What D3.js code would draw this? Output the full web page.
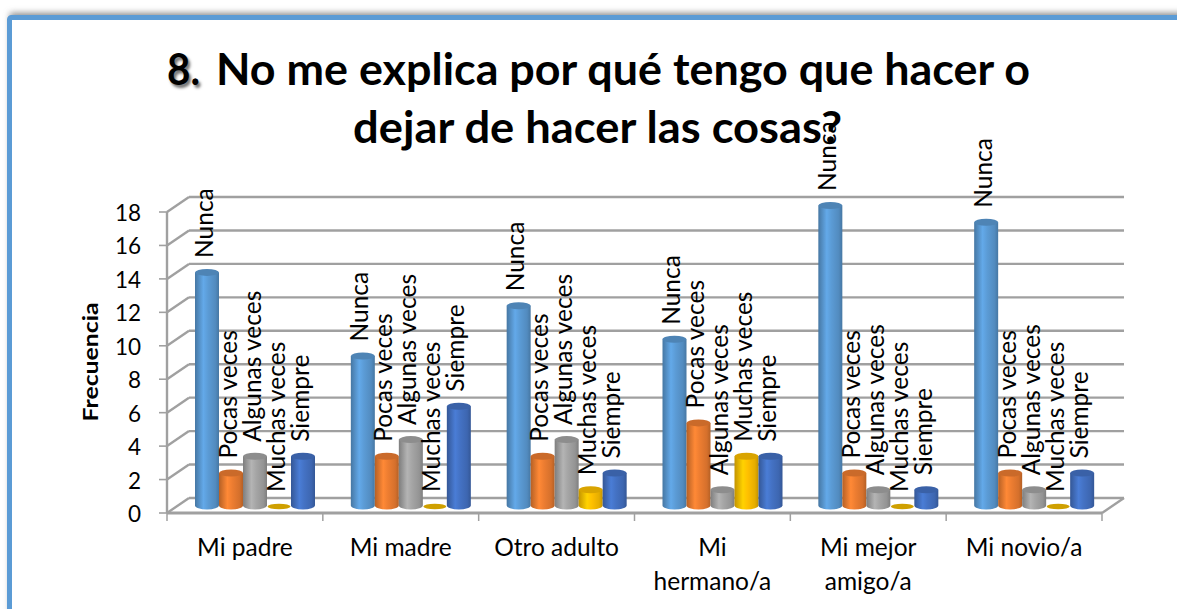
<!DOCTYPE html>
<html><head><meta charset="utf-8">
<script src="https://cdn.jsdelivr.net/npm/d3@7"></script>
<style>html,body{margin:0;padding:0;background:#fff;overflow:hidden}svg{display:block}</style>
</head><body><svg id="c" width="1177" height="609"></svg>
<script>
const categories=[["Mi padre"],["Mi madre"],["Otro adulto"],["Mi","hermano/a"],["Mi mejor","amigo/a"],["Mi novio/a"]];
const seriesNames=["Nunca","Pocas veces","Algunas veces","Muchas veces","Siempre"];
const nunca=[14,9,12,10,18,17];
const pocas=[2,3,3,5,2,2];
const algunas=[3,4,4,1,1,1];
const muchas=[0,0,1,3,0,0];
const siempre=[3,6,2,3,1,2];
const seriesValues=[nunca,pocas,algunas,muchas,siempre];
const colors=["#5b9bd5","#ed7d31","#a5a5a5","#ffc000","#4472c4"];
const yTicks=d3.range(0,20,2);

const svg=d3.select("#c");
const defs=svg.append("defs");
const blur=defs.append("filter").attr("id","sh").attr("x","-5%").attr("y","-300%").attr("width","110%").attr("height","700%");
blur.append("feGaussianBlur").attr("stdDeviation",3);
colors.forEach((c,i)=>{
  const g=defs.append("linearGradient").attr("id","g"+i);
  const d=d3.color(c).darker(0.75), l=d3.color(c).brighter(0.25);
  [[0,d],[0.35,l],[0.55,c],[0.85,d3.color(c).darker(0.3)],[1,d]].forEach(([o,k])=>g.append("stop").attr("offset",o).attr("stop-color",k));
});

// frame
svg.append("rect").attr("x",10).attr("y",13).attr("width",1200).attr("height",700).attr("fill","#8a8a8a").attr("filter","url(#sh)");
svg.append("rect").attr("x",9.5).attr("y",17.5).attr("width",1200).attr("height",700).attr("rx",2).attr("fill","#fff").attr("stroke","#5b9bd5").attr("stroke-width",5);

// scales
const depthX=22, depthY=15;
const y=d3.scaleLinear().domain([0,18]).range([513,212]);
const x=d3.scaleBand().domain(d3.range(6)).range([167,1102]);
const inner=d3.scaleBand().domain(d3.range(5)).range([28,148]);
const yBar=v=>y(v)-6.5;
const gray="#a0a0a0";

// back wall + side wall
const wall=svg.append("g").attr("stroke",gray).attr("stroke-width",2.4).attr("fill","none");
yTicks.forEach(t=>{
  wall.append("line").attr("x1",167+depthX).attr("x2",1102+depthX).attr("y1",y(t)-depthY).attr("y2",y(t)-depthY);
  wall.append("line").attr("x1",167).attr("x2",167+depthX).attr("y1",y(t)).attr("y2",y(t)-depthY);
  wall.append("line").attr("x1",159).attr("x2",167).attr("y1",y(t)).attr("y2",y(t)).attr("stroke-width",1.6);
});
wall.append("line").attr("x1",167).attr("x2",167).attr("y1",y(18)).attr("y2",y(0));
wall.append("line").attr("x1",167).attr("x2",1102).attr("y1",y(0)).attr("y2",y(0)).attr("stroke-width",3);
wall.append("line").attr("x1",1102).attr("x2",1102+depthX).attr("y1",y(0)).attr("y2",y(0)-depthY);
d3.range(7).forEach(i=>{
  const px=167+i*x.bandwidth();
  wall.append("line").attr("x1",px).attr("x2",px).attr("y1",y(0)).attr("y2",y(0)+8).attr("stroke-width",1.5);
});

// cylinders
const ry=4;
categories.forEach((c,i)=>{
  seriesValues.forEach((vals,s)=>{
    const v=vals[i], l=x(i)+inner(s), w=inner.bandwidth(), r=l+w, top=yBar(v), base=yBar(0)-1;
    const g=svg.append("g");
    if(v===0){
      g.append("ellipse").attr("cx",l+w/2).attr("cy",base+1).attr("rx",w/2-0.5).attr("ry",2.8).attr("fill","#cfa000");
      return;
    }
    g.append("path").attr("d",`M${l},${top}L${l},${base}A${w/2},${ry} 0 0 0 ${r},${base}L${r},${top}Z`).attr("fill",`url(#g${s})`);
    g.append("ellipse").attr("cx",l+w/2).attr("cy",top).attr("rx",w/2).attr("ry",ry-0.5).attr("fill",d3.color(colors[s]).darker(0.45));
  });
});

const tickFont="Lato";
// data labels
categories.forEach((c,i)=>{
  seriesValues.forEach((vals,s)=>{
    const px=x(i)+inner(s)+inner.bandwidth()/2-3, py=yBar(vals[i])-14.5;
    svg.append("text").attr("transform",`translate(${px},${py}) rotate(-90)`)
      .attr("dy","0.35em").attr("font-family",tickFont).attr("font-size",24.5).attr("fill","#000")
      .text(seriesNames[s]);
  });
});

// y tick labels
yTicks.forEach(t=>{
  svg.append("text").attr("x",141).attr("y",y(t)+9).attr("text-anchor","end")
    .attr("font-family",tickFont).attr("font-size",22.5).attr("fill","#000").text(t);
});
// category labels
categories.forEach((c,i)=>{
  c.forEach((ln,j)=>{
    svg.append("text").attr("x",x(i)+x.bandwidth()/2).attr("y",556+j*34).attr("text-anchor","middle")
      .attr("font-family",tickFont).attr("font-size",24.5).attr("fill","#000").text(ln);
  });
});
// axis title
svg.append("text").attr("transform","translate(98,362) rotate(-90)").attr("text-anchor","middle")
  .attr("font-family",tickFont).attr("font-weight",700).attr("font-size",21).attr("textLength",119).attr("lengthAdjust","spacingAndGlyphs").attr("fill","#000").text("Frecuencia");

// title
const tf={"font-family":tickFont,"font-weight":700,"font-size":43,"fill":"#000"};
function tt(xp,yp,s,len,extra){
  const n=svg.append("text").attr("x",xp).attr("y",yp).text(s).attr("lengthAdjust","spacingAndGlyphs");
  Object.entries(tf).forEach(([k,v])=>n.attr(k,v));
  if(len)n.attr("textLength",len);
  if(extra)extra(n);
  return n;
}
tt(167,85,"8.",33,n=>n.style("text-shadow","2.5px 2.5px 3px rgba(0,0,0,0.55)"));
tt(216,85,"No me explica por qué tengo que hacer o",814);
tt(353,143,"dejar de hacer las cosas?",489);
</script></body></html>
